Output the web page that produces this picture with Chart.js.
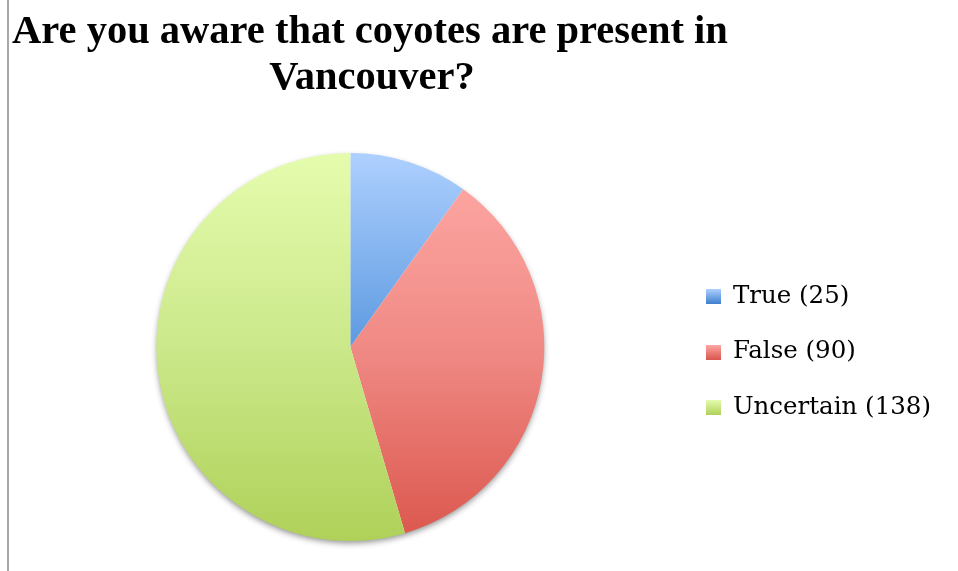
<!DOCTYPE html>
<html>
<head>
<meta charset="utf-8">
<script src="https://cdn.jsdelivr.net/npm/chart.js@4"></script>
<style>
html,body{margin:0;padding:0;background:#fff;}
#wrap{position:relative;width:958px;height:571px;}
#edge{position:absolute;left:7px;top:0;width:2px;height:571px;background:#a8a8a8;}
canvas{position:absolute;left:0;top:0;}
</style>
</head>
<body>
<div id="wrap">
<canvas id="c" width="958" height="571"></canvas>
<div id="edge"></div>
</div>
<script>
const titleLines = ["Are you aware that coyotes are present in", "Vancouver?"];
const categories = ["True", "False", "Uncertain"];
const counts = [25, 90, 138];
const legendLabels = ["True (25)", "False (90)", "Uncertain (138)"];
const gradientStops = [
  [[0, "#aed0ff"], [0.5, "#5d9ae0"], [1, "#3f7fcc"]],
  [[0, "#ffaaa7"], [0.5, "#f08a85"], [1, "#db574d"]],
  [[0, "#e5fcae"], [0.5, "#cbe88a"], [1, "#afd159"]]
];

function pieGradient(context) {
  const chart = context.chart;
  const area = chart.chartArea;
  const stops = gradientStops[context.dataIndex];
  if (!area) return stops[1][1];
  const meta = chart.getDatasetMeta(0);
  const arc = meta.data[0];
  let top = area.top, bottom = area.bottom;
  if (arc && arc.outerRadius) { top = arc.y - arc.outerRadius; bottom = arc.y + arc.outerRadius; }
  const g = chart.ctx.createLinearGradient(0, top, 0, bottom);
  stops.forEach(s => g.addColorStop(s[0], s[1]));
  return g;
}

function swatch(i) {
  const c = document.createElement("canvas");
  c.width = 15; c.height = 15;
  const x = c.getContext("2d");
  const g = x.createLinearGradient(0, 0, 0, 15);
  const s = gradientStops[i];
  g.addColorStop(0, s[0][1]);
  g.addColorStop(1, s[2][1]);
  x.fillStyle = g;
  x.fillRect(0, 0, 15, 15);
  return c;
}

const titlePlugin = {
  id: "customTitle",
  afterDraw(chart) {
    const ctx = chart.ctx;
    ctx.save();
    ctx.fillStyle = "#000";
    ctx.font = "bold 40.5px 'Liberation Serif'";
    ctx.textAlign = "center";
    ctx.textBaseline = "alphabetic";
    ctx.fillText(titleLines[0], 370, 43);
    ctx.fillText(titleLines[1], 372, 89);
    ctx.restore();
  }
};

const shadowPlugin = {
  id: "pieShadow",
  beforeDatasetsDraw(chart) {
    const arc = chart.getDatasetMeta(0).data[0];
    if (!arc) return;
    const ctx = chart.ctx;
    ctx.save();
    ctx.shadowColor = "rgba(0,0,0,0.45)";
    ctx.shadowBlur = 6;
    ctx.shadowOffsetX = 0;
    ctx.shadowOffsetY = 3;
    ctx.fillStyle = "#ffffff";
    ctx.beginPath();
    ctx.arc(arc.x, arc.y, arc.outerRadius - 1, 0, Math.PI * 2);
    ctx.fill();
    ctx.restore();
  }
};

new Chart(document.getElementById("c"), {
  type: "pie",
  data: {
    labels: categories,
    datasets: [{
      data: counts,
      backgroundColor: pieGradient,
      borderWidth: 0
    }]
  },
  options: {
    responsive: false,
    animation: false,
    layout: { padding: { top: 153, bottom: 30, left: 25, right: 17 } },
    plugins: {
      title: { display: false },
      tooltip: { enabled: false },
      legend: {
        position: "right",
        title: { display: true, text: " ", color: "#000", font: { size: 8, lineHeight: 1 }, padding: { top: 1, bottom: 1 } },
        labels: {
          color: "#000",
          font: { family: "'DejaVu Serif'", size: 24.5 },
          padding: 31,
          usePointStyle: true,
          pointStyleWidth: 14,
          generateLabels(chart) {
            return legendLabels.map((t, i) => ({
              text: t,
              fontColor: "#000",
              pointStyle: swatch(i),
              fillStyle: gradientStops[i][1][1],
              strokeStyle: "rgba(0,0,0,0)",
              lineWidth: 0,
              hidden: false,
              index: i
            }));
          }
        }
      }
    }
  },
  plugins: [shadowPlugin, titlePlugin]
});
</script>
</body>
</html>
